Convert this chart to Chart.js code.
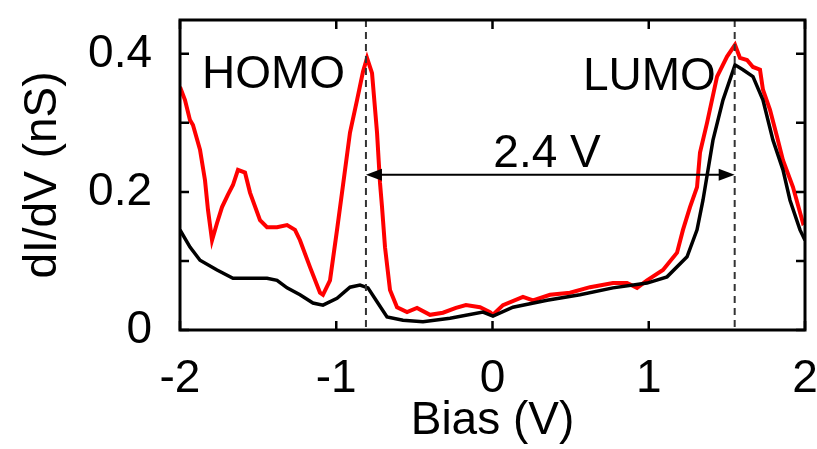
<!DOCTYPE html>
<html>
<head>
<meta charset="utf-8">
<script src="https://cdn.jsdelivr.net/npm/chart.js@4/dist/chart.umd.min.js"></script>
<style>
  html, body { margin: 0; padding: 0; background: #fff; }
  #wrap { width: 817px; height: 449px; }
</style>
</head>
<body>
<div id="wrap"><canvas id="c" width="817" height="449"></canvas></div>
<script>
// ---- data ----
const biasRed = [-2.000,-1.968,-1.936,-1.917,-1.872,-1.840,-1.821,-1.795,-1.763,-1.731,-1.693,-1.661,-1.629,-1.584,-1.552,-1.488,-1.443,-1.379,-1.315,-1.264,-1.232,-1.168,-1.104,-1.085,-1.040,-0.995,-0.963,-0.912,-0.867,-0.829,-0.803,-0.771,-0.739,-0.720,-0.707,-0.688,-0.656,-0.611,-0.547,-0.483,-0.400,-0.317,-0.234,-0.170,-0.080,-0.016,0.003,0.067,0.195,0.259,0.368,0.496,0.624,0.771,0.861,0.925,0.989,1.091,1.181,1.219,1.264,1.309,1.328,1.373,1.437,1.501,1.552,1.584,1.629,1.667,1.712,1.731,1.776,1.821,1.859,1.923,1.987,2.000];
const dIdVRed = [0.352,0.333,0.304,0.297,0.261,0.217,0.174,0.130,0.155,0.178,0.196,0.210,0.232,0.228,0.199,0.159,0.149,0.149,0.152,0.145,0.130,0.091,0.054,0.051,0.072,0.145,0.199,0.286,0.333,0.374,0.394,0.372,0.286,0.213,0.178,0.120,0.058,0.033,0.026,0.032,0.022,0.025,0.032,0.036,0.033,0.026,0.022,0.036,0.048,0.043,0.051,0.054,0.062,0.068,0.068,0.061,0.072,0.087,0.112,0.145,0.178,0.207,0.257,0.300,0.367,0.396,0.413,0.394,0.391,0.381,0.377,0.348,0.319,0.280,0.246,0.207,0.155,0.157];

const biasBlack = [-2.000,-1.936,-1.872,-1.763,-1.661,-1.552,-1.443,-1.379,-1.315,-1.232,-1.149,-1.085,-0.995,-0.912,-0.848,-0.797,-0.739,-0.675,-0.573,-0.445,-0.272,-0.061,0.003,0.131,0.349,0.560,0.771,0.989,1.117,1.245,1.309,1.347,1.411,1.475,1.552,1.603,1.667,1.731,1.795,1.859,1.904,1.968,2.000];
const dIdVBlack = [0.145,0.120,0.101,0.087,0.075,0.075,0.075,0.072,0.061,0.051,0.039,0.036,0.046,0.062,0.065,0.061,0.041,0.019,0.014,0.012,0.017,0.026,0.020,0.033,0.043,0.051,0.061,0.068,0.077,0.106,0.145,0.188,0.275,0.333,0.384,0.377,0.367,0.333,0.275,0.232,0.188,0.145,0.130];

const xTickValues = [-2, -1, 0, 1, 2];
const yTickValues = [0, 0.1, 0.2, 0.3, 0.4];
const yTickLabelValues = [0, 0.2, 0.4];
const xTitle = 'Bias (V)';
const yTitle = 'dI/dV (nS)';

const homoBias = -0.81;
const lumoBias = 1.55;
const gapLevel = 0.225;
const gapLabel = '2.4 V';
const labels = [
  { text: 'HOMO', x: -1.859, y: 0.351, align: 'left' },
  { text: 'LUMO', x: 0.579, y: 0.348, align: 'left' },
  { text: gapLabel, x: 0.349, y: 0.236, align: 'center' }
];

// ---- styling ----
const FONT = "'Liberation Sans', Arial, sans-serif";
const toPts = (xs, ys) => xs.map((x, i) => ({ x: x, y: ys[i] }));
const noEdgePadding = s => { s.paddingLeft = 0; s.paddingRight = 0; s.paddingTop = 0; s.paddingBottom = 0; };

const framePlugin = {
  id: 'frame',
  afterDatasetsDraw(chart) {
    const { ctx, chartArea: a, scales: { x, y } } = chart;
    ctx.save();
    // dashed guide lines
    ctx.strokeStyle = '#333';
    ctx.lineWidth = 2;
    ctx.setLineDash([7, 5]);
    [homoBias, lumoBias].forEach(v => {
      const px = x.getPixelForValue(v);
      ctx.beginPath();
      ctx.moveTo(px, a.top);
      ctx.lineTo(px, a.bottom);
      ctx.stroke();
    });
    ctx.setLineDash([]);
    // double arrow
    const x1 = x.getPixelForValue(homoBias), x2 = x.getPixelForValue(lumoBias);
    const yy = y.getPixelForValue(gapLevel);
    const hl = 16, hw = 6;
    ctx.strokeStyle = '#000';
    ctx.fillStyle = '#000';
    ctx.lineWidth = 2;
    ctx.beginPath();
    ctx.moveTo(x1 + hl - 2, yy); ctx.lineTo(x2 - hl + 2, yy); ctx.stroke();
    ctx.beginPath();
    ctx.moveTo(x1, yy); ctx.lineTo(x1 + hl, yy - hw); ctx.lineTo(x1 + hl, yy + hw); ctx.closePath(); ctx.fill();
    ctx.beginPath();
    ctx.moveTo(x2, yy); ctx.lineTo(x2 - hl, yy - hw); ctx.lineTo(x2 - hl, yy + hw); ctx.closePath(); ctx.fill();
    // text labels
    ctx.font = '46px ' + FONT;
    ctx.textBaseline = 'alphabetic';
    labels.forEach(l => {
      ctx.textAlign = l.align;
      ctx.fillText(l.text, x.getPixelForValue(l.x), y.getPixelForValue(l.y));
    });
    // frame
    ctx.lineWidth = 3;
    ctx.strokeRect(a.left, a.top, a.right - a.left, a.bottom - a.top);
    // inward ticks
    ctx.lineWidth = 2.5;
    const tl = 9;
    x.ticks.forEach(t => {
      const px = x.getPixelForValue(t.value);
      ctx.beginPath();
      ctx.moveTo(px, a.bottom); ctx.lineTo(px, a.bottom - tl);
      ctx.moveTo(px, a.top); ctx.lineTo(px, a.top + tl);
      ctx.stroke();
    });
    y.ticks.forEach(t => {
      const py = y.getPixelForValue(t.value);
      ctx.beginPath();
      ctx.moveTo(a.left, py); ctx.lineTo(a.left + tl, py);
      ctx.moveTo(a.right, py); ctx.lineTo(a.right - tl, py);
      ctx.stroke();
    });
    ctx.restore();
  }
};

new Chart(document.getElementById('c'), {
  type: 'line',
  data: {
    datasets: [
      {
        label: 'black',
        data: toPts(biasBlack, dIdVBlack),
        borderColor: '#000000',
        borderWidth: 3.5,
        pointRadius: 0,
        tension: 0,
        fill: false
      },
      {
        label: 'red',
        data: toPts(biasRed, dIdVRed),
        borderColor: '#ff0000',
        borderWidth: 4,
        pointRadius: 0,
        tension: 0,
        fill: false
      }
    ]
  },
  options: {
    responsive: false,
    animation: false,
    devicePixelRatio: 1,
    layout: { padding: { top: 20, right: 12, left: 0, bottom: 0 } },
    plugins: { legend: { display: false }, tooltip: { enabled: false } },
    scales: {
      x: {
        type: 'linear',
        min: -2, max: 2,
        afterBuildTicks: s => { s.ticks = xTickValues.map(v => ({ value: v })); },
        ticks: {
          color: '#000',
          font: { family: FONT, size: 46 },
          padding: 22,
          maxRotation: 0,
          autoSkip: false,
          callback: v => String(v)
        },
        grid: { display: false, drawTicks: false },
        border: { display: false },
        title: {
          display: true, text: xTitle, color: '#000',
          font: { family: FONT, size: 46, lineHeight: 1 },
          padding: { top: 0, bottom: 5 }
        },
        afterFit: s => { s.height = 119; noEdgePadding(s); }
      },
      y: {
        type: 'linear',
        min: 0, max: 0.449,
        afterBuildTicks: s => { s.ticks = yTickValues.map(v => ({ value: v })); },
        ticks: {
          color: '#000',
          font: { family: FONT, size: 46 },
          padding: 28,
          autoSkip: false,
          callback: v => yTickLabelValues.some(t => Math.abs(t - v) < 1e-6) ? String(v) : ''
        },
        grid: { display: false, drawTicks: false },
        border: { display: false },
        title: {
          display: true, text: yTitle, color: '#000',
          font: { family: FONT, size: 46, lineHeight: 1 },
          padding: { top: 20, bottom: 0 }
        },
        afterFit: s => { s.width = 180; noEdgePadding(s); }
      }
    }
  },
  plugins: [framePlugin]
});
</script>
</body>
</html>
